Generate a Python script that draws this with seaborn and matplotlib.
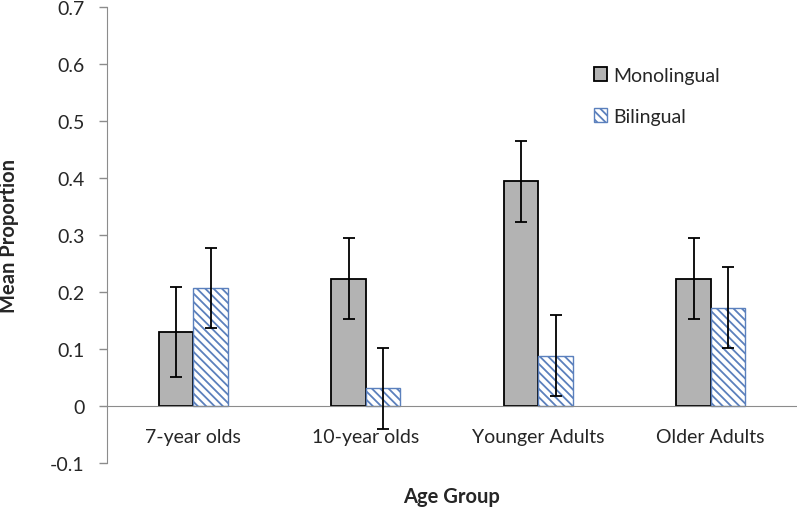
import pandas as pd
import numpy as np
import matplotlib
matplotlib.use("Agg")
import matplotlib.pyplot as plt
import seaborn as sns

# Data
age_groups = ["7-year olds", "10-year olds", "Younger Adults", "Older Adults"]
groups = ["Monolingual", "Bilingual"]
mono_mean = [0.130, 0.223, 0.394, 0.223]
mono_err = [0.079, 0.071, 0.071, 0.071]
bi_mean = [0.207, 0.031, 0.088, 0.172]
bi_err = [0.070, 0.071, 0.071, 0.071]
ytick_vals = [-0.1, 0, 0.1, 0.2, 0.3, 0.4, 0.5, 0.6, 0.7]
ytick_labels = ["-0.1", "0", "0.1", "0.2", "0.3", "0.4", "0.5", "0.6", "0.7"]

df = pd.DataFrame({
    "Age Group": age_groups * 2,
    "Language": [groups[0]] * 4 + [groups[1]] * 4,
    "Mean": mono_mean + bi_mean,
    "Err": mono_err + bi_err,
})

sns.set_style("white")
plt.rcParams["font.family"] = ["Lato", "DejaVu Sans"]
plt.rcParams["hatch.linewidth"] = 1.3

fig = plt.figure(figsize=(7.97, 5.10), dpi=100)
ax = fig.add_axes([107 / 797, 1 - 464 / 510, 690 / 797, 456 / 510])

sns.barplot(data=df, x="Age Group", y="Mean", hue="Language",
            hue_order=groups, order=age_groups, errorbar=None,
            width=0.4, gap=0, ax=ax,
            palette={"Monolingual": "#b3b3b3", "Bilingual": "white"})

MONO_STYLE = dict(facecolor="#b3b3b3", edgecolor="black", linewidth=1.3)
BI_STYLE = dict(facecolor="white", edgecolor="#5b80bd", hatch="\\\\\\\\", linewidth=1.0)

# bars are grouped by hue in ax.patches
n = len(age_groups)
bar_patches = list(ax.patches)[: 2 * n]
for i, p in enumerate(bar_patches):
    p.set(**(MONO_STYLE if i < n else BI_STYLE))

# error bars
errs = mono_err + bi_err
means = mono_mean + bi_mean
xs = [p.get_x() + p.get_width() / 2 for p in bar_patches]
ax.errorbar(xs, means, yerr=errs, fmt="none", ecolor="black",
            elinewidth=1.3, capsize=4, capthick=1.3, zorder=5)

ax.set_xlim(-0.5, 3.5)
ax.set_ylim(-0.1, 0.7)
ax.set_yticks(ytick_vals)
ax.set_yticklabels(ytick_labels, fontsize=14)
ax.tick_params(axis="y", direction="out", length=6, color="#8c8c8c", width=1, left=True, pad=10)
ax.tick_params(axis="x", length=0, pad=16, labelsize=14)

for s in ["top", "right"]:
    ax.spines[s].set_visible(False)
ax.spines["left"].set_color("#8c8c8c")
ax.spines["bottom"].set_color("#8c8c8c")
ax.spines["bottom"].set_position(("data", 0))

ax.set_xlabel("Age Group", fontsize=14.5, fontweight="bold")
ax.set_ylabel("Mean Proportion", fontsize=14.5, fontweight="bold")
ax.xaxis.set_label_coords(0.5, -0.05)
ax.yaxis.set_label_coords(-0.128, 0.5)

leg = ax.legend(loc="upper left", bbox_to_anchor=(584 / 797, 1 - 58 / 510),
                bbox_transform=fig.transFigure, frameon=False, fontsize=14,
                handlelength=0.7, handleheight=0.7, handletextpad=0.3,
                labelspacing=1.25, borderpad=0)
leg.legend_handles[0].set(**MONO_STYLE)
leg.legend_handles[1].set(**BI_STYLE)

fig.savefig("out.png", dpi=100)
